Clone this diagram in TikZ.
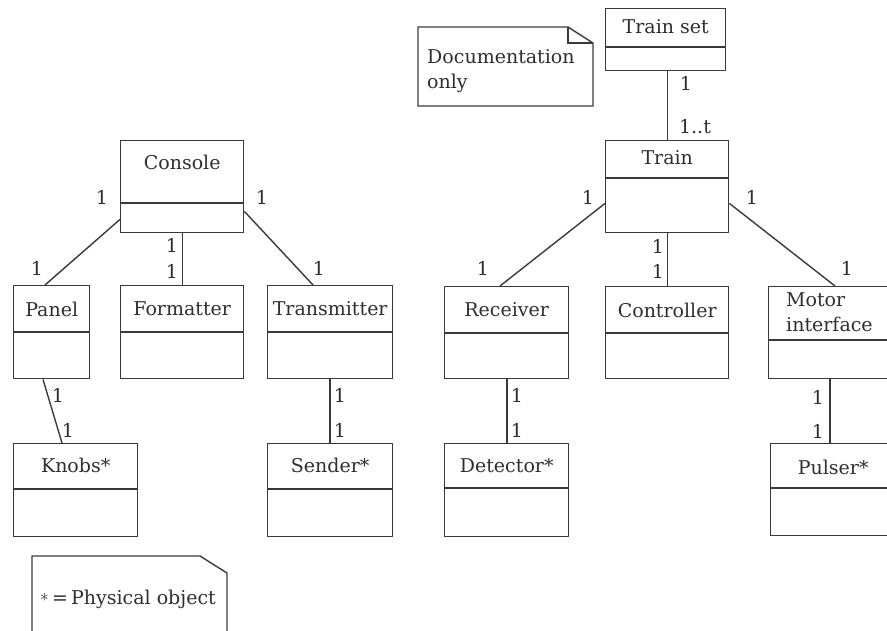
\documentclass[tikz,border=0pt]{standalone}
\usepackage{fontspec}
\setmainfont{DejaVu Serif}
\usetikzlibrary{calc}
\definecolor{ink}{HTML}{2E2E2E}
\definecolor{edge}{HTML}{3A3A3A}

% class box: name, x, y, width, height, divider offset, title offset, title
\newcommand\umlclass[8]{%
  \node[classbox, minimum width=#4pt, minimum height=#5pt] (#1) at (#2,#3) {};
  \draw[divider] ($(#1.north west)+(0,#6)$) -- ($(#1.north east)+(0,#6)$);
  \node[cname] (#1-name) at ($(#1.north)+(0,#7)$) {#8};
}

\begin{document}
\begin{tikzpicture}[x=1pt,y=-1pt,
  font=\fontsize{19}{25}\selectfont,
  classbox/.style={draw=edge, line width=1.4pt, inner sep=0pt, anchor=north west},
  divider/.style={draw=edge, line width=1.3pt},
  assoc/.style={draw=edge, line width=1.4pt},
  notebox/.style={draw=edge, line width=1.4pt},
  cname/.style={text=ink, inner sep=0pt},
  mult/.style={text=ink, inner sep=0pt}]

\useasboundingbox (0,0) rectangle (887,630);
\clip (0,0) rectangle (887,630);

% console side
\umlclass{console}{120}{140}{123}{92}{63}{22}{Console}
\umlclass{panel}{13}{285}{76}{93}{47}{24}{Panel}
\umlclass{formatter}{120}{285}{123}{93}{47}{24}{Formatter}
\umlclass{transmitter}{267}{285}{125}{93}{47}{24}{Transmitter}
\umlclass{knobs}{13}{443}{124}{93}{46}{22}{Knobs*}
\umlclass{sender}{267}{443}{125}{93}{46}{22}{Sender*}

% train side
\umlclass{trainset}{605}{8}{120}{62}{39}{19}{Train set}
\umlclass{train}{605}{140}{123}{92}{38}{18}{Train}
\umlclass{receiver}{444}{286}{124}{92}{47}{24}{Receiver}
\umlclass{controller}{605}{286}{123}{92}{47}{24}{Controller}
\umlclass{detector}{444}{443}{124}{93}{45}{23}{Detector*}
\umlclass{pulser}{770}{443}{125}{92}{45}{24}{Pulser*}

\node[classbox, minimum width=125pt, minimum height=92pt] (motor) at (768,286) {};
\draw[divider] ($(motor.north west)+(0,54)$) -- ($(motor.north east)+(0,54)$);
\node[cname, align=left, anchor=west] (motor-name) at (786,312) {Motor\\interface};

% notes
\draw[notebox] (418,27) -- (568,27) -- (593,43) -- (593,106) -- (418,106) -- cycle;
\draw[notebox] (568,27) -- (568,43) -- (593,43);
\node[cname, align=left, anchor=west] (docnote) at (427,71) {Documentation\\only};

\draw[notebox] (32,640) -- (32,556) -- (200,556) -- (227,573) -- (227,640);
\node[cname] (legend) at (128,599) {\raisebox{0.12em}{$\ast$}\,=\,Physical object};

% associations
\draw[assoc] (train.north |- trainset.south) -- (train.north);
\draw[assoc] ($(console.south west)+(0,-14)$) -- ($(panel.north west)+(32,0)$);
\draw[assoc] (console.south) -- (formatter.north);
\draw[assoc] ($(console.south east)+(0,-22)$) -- ($(transmitter.north west)+(46,0)$);
\draw[assoc] ($(panel.south west)+(30,0)$) -- ($(knobs.north west)+(49,0)$);
\draw[assoc] ($(transmitter.south west)+(63,0)$) -- ($(sender.north west)+(63,0)$);
\draw[assoc] ($(train.south west)+(0,-30)$) -- ($(receiver.north west)+(56,0)$);
\draw[assoc] (train.south) -- (controller.north);
\draw[assoc] ($(train.south east)+(0,-30)$) -- ($(motor.north west)+(67,0)$);
\draw[assoc] ($(receiver.south west)+(63,0)$) -- ($(detector.north west)+(63,0)$);
\draw[assoc] ($(motor.south west)+(62,0)$) -- ($(pulser.north west)+(60,0)$);

% multiplicities
\node[mult] (m1)  at (686,83)  {1};
\node[mult] (m2)  at (695,127) {1..t};
\node[mult] (m3)  at (102,197) {1};
\node[mult] (m4)  at (262,197) {1};
\node[mult] (m5)  at (37,268)  {1};
\node[mult] (m6)  at (319,268) {1};
\node[mult] (m7)  at (172,245) {1};
\node[mult] (m8)  at (172,271) {1};
\node[mult] (m9)  at (588,197) {1};
\node[mult] (m10) at (752,197) {1};
\node[mult] (m11) at (483,268) {1};
\node[mult] (m12) at (847,268) {1};
\node[mult] (m13) at (658,246) {1};
\node[mult] (m14) at (658,271) {1};
\node[mult] (m15) at (58,395)  {1};
\node[mult] (m16) at (68,430)  {1};
\node[mult] (m17) at (340,395) {1};
\node[mult] (m18) at (340,430) {1};
\node[mult] (m19) at (517,395) {1};
\node[mult] (m20) at (517,430) {1};
\node[mult] (m21) at (818,397) {1};
\node[mult] (m22) at (818,431) {1};
\end{tikzpicture}
\end{document}
